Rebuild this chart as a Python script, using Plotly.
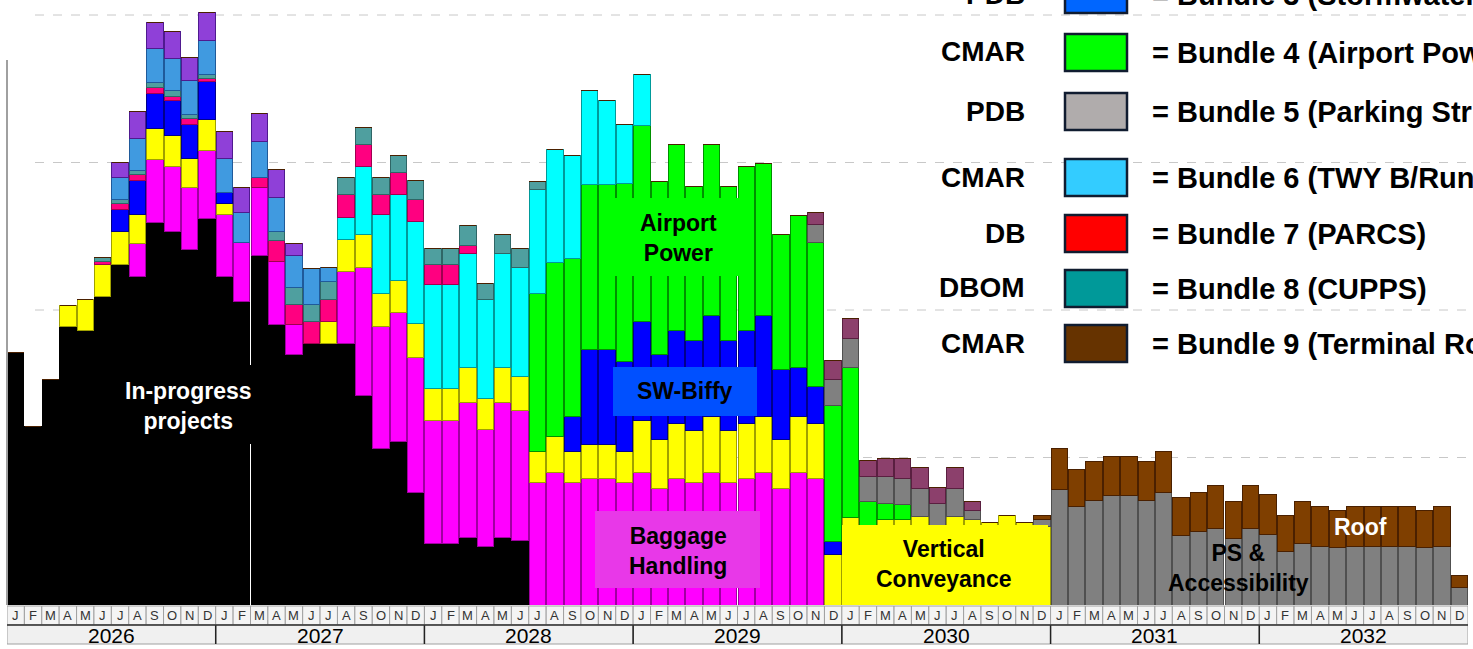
import plotly.graph_objects as go

# ---------------- data (monthly values, Jan 2026 .. Dec 2032) ----------------
MONTHS = ["J", "F", "M", "A", "M", "J", "J", "A", "S", "O", "N", "D"]
YEARS = [2026, 2027, 2028, 2029, 2030, 2031, 2032]

in_progress = [
    17.1, 12.1, 15.3, 18.9, 18.6, 20.9, 23.1, 22.3, 25.9, 25.3, 24.1, 26.2,
    22.3, 20.6, 23.7, 19.0, 17.0, 17.7, 17.7, 17.7, 14.2, 10.6, 11.1, 7.6,
    4.2, 4.2, 4.6, 4.0, 4.6, 4.4, 0, 0, 0, 0, 0, 0,
    0, 0, 0, 0, 0, 0, 0, 0, 0, 0, 0, 0,
    0, 0, 0, 0, 0, 0, 0, 0, 0, 0, 0, 0,
    0, 0, 0, 0, 0, 0, 0, 0, 0, 0, 0, 0,
    0, 0, 0, 0, 0, 0, 0, 0, 0, 0, 0, 0]
baggage = [
    0, 0, 0, 0, 0, 0, 0, 2.2, 4.3, 4.4, 4.2, 4.6,
    4.2, 4.0, 4.6, 4.3, 2.0, 0, 0, 4.9, 8.7, 8.3, 8.7, 9.2,
    8.3, 8.3, 9.1, 7.9, 9.1, 8.8, 8.3, 9.0, 8.3, 8.6, 8.6, 8.3,
    9.0, 7.9, 8.6, 8.3, 9.0, 8.3, 8.6, 9.0, 7.9, 9.0, 8.6, 0,
    0, 0, 0, 0, 0, 0, 0, 0, 0, 0, 0, 0,
    0, 0, 0, 0, 0, 0, 0, 0, 0, 0, 0, 0,
    0, 0, 0, 0, 0, 0, 0, 0, 0, 0, 0, 0]
vertical = [
    0, 0, 0, 1.4, 2.1, 2.2, 2.2, 2.0, 2.1, 2.1, 2.0, 2.1,
    0.7, 0, 0, 0, 0, 0, 1.5, 2.2, 2.2, 2.2, 2.2, 2.3,
    2.2, 2.2, 2.4, 2.1, 2.4, 2.3, 2.1, 2.4, 2.1, 2.3, 2.3, 2.1,
    3.5, 3.3, 3.7, 3.5, 3.8, 3.5, 3.7, 3.8, 3.3, 3.8, 3.7, 3.4,
    5.9, 5.2, 5.8, 5.8, 6.0, 5.4, 6.0, 5.8, 5.6, 6.1, 5.6, 5.3,
    0, 0, 0, 0, 0, 0, 0, 0, 0, 0, 0, 0,
    0, 0, 0, 0, 0, 0, 0, 0, 0, 0, 0, 0]
sw_biffy = [
    0, 0, 0, 0, 0, 0, 1.5, 2.3, 2.4, 2.4, 2.3, 2.6,
    0.8, 0, 0, 0, 0, 0, 0, 0, 0, 0, 0, 0,
    0, 0, 0, 0, 0, 0, 0, 0, 2.4, 6.4, 6.4, 6.1,
    6.7, 5.8, 6.3, 6.1, 6.8, 6.1, 6.3, 6.8, 4.8, 3.3, 2.5, 0.9,
    0, 0, 0, 0, 0, 0, 0, 0, 0, 0, 0, 0,
    0, 0, 0, 0, 0, 0, 0, 0, 0, 0, 0, 0,
    0, 0, 0, 0, 0, 0, 0, 0, 0, 0, 0, 0]
airport_power = [
    0, 0, 0, 0, 0, 0, 0, 0, 0, 0, 0, 0,
    0, 0, 0, 0, 0, 0, 0, 0, 0, 0, 0, 0,
    0, 0, 0, 0, 0, 0, 10.7, 11.8, 10.7, 11.2, 11.2, 12.1,
    13.3, 11.7, 12.6, 10.5, 11.6, 10.5, 11.1, 10.3, 9.1, 10.3, 9.8, 9.2,
    10.2, 1.8, 1.1, 1.0, 0, 0, 0, 0, 0, 0, 0, 0,
    0, 0, 0, 0, 0, 0, 0, 0, 0, 0, 0, 0,
    0, 0, 0, 0, 0, 0, 0, 0, 0, 0, 0, 0]
cyan_bundle = [
    0, 0, 0, 0, 0, 0, 0, 0, 0, 0, 0, 0,
    0, 0, 0, 0, 0, 0, 0, 1.5, 4.6, 5.4, 5.8, 6.9,
    7.0, 7.0, 7.7, 6.7, 7.7, 7.4, 7.1, 7.7, 7.0, 6.4, 5.7, 4.0,
    3.5, 0, 0, 0, 0, 0, 0, 0, 0, 0, 0, 0,
    0, 0, 0, 0, 0, 0, 0, 0, 0, 0, 0, 0,
    0, 0, 0, 0, 0, 0, 0, 0, 0, 0, 0, 0,
    0, 0, 0, 0, 0, 0, 0, 0, 0, 0, 0, 0]
parcs = [
    0, 0, 0, 0, 0, 0.2, 0.4, 0.4, 0.4, 0.3, 0.4, 0.2,
    0, 0, 0.7, 1.4, 1.4, 1.5, 1.5, 1.5, 1.5, 1.3, 1.5, 1.5,
    1.4, 1.4, 0.6, 0, 0, 0, 0, 0, 0, 0, 0, 0,
    0, 0, 0, 0, 0, 0, 0, 0, 0, 0, 0, 0,
    0, 0, 0, 0, 0, 0, 0, 0, 0, 0, 0, 0,
    0, 0, 0, 0, 0, 0, 0, 0, 0, 0, 0, 0,
    0, 0, 0, 0, 0, 0, 0, 0, 0, 0, 0, 0]
cupps = [
    0, 0, 0, 0, 0, 0.25, 0.3, 0.25, 0.3, 0.35, 0.25, 0.3,
    0, 0, 0, 0.6, 1.1, 1.2, 1.2, 1.2, 1.2, 1.2, 1.2, 1.3,
    1.1, 1.1, 1.3, 1.1, 1.3, 1.3, 0.5, 0, 0, 0, 0, 0,
    0, 0, 0, 0, 0, 0, 0, 0, 0, 0, 0, 0,
    0, 0, 0, 0, 0, 0, 0, 0, 0, 0, 0, 0,
    0, 0, 0, 0, 0, 0, 0, 0, 0, 0, 0, 0,
    0, 0, 0, 0, 0, 0, 0, 0, 0, 0, 0, 0]
twy = [
    0, 0, 0, 0, 0, 0, 1.5, 2.2, 2.3, 2.2, 2.3, 2.3,
    2.3, 2.0, 2.4, 2.3, 2.2, 2.4, 1.0, 0, 0, 0, 0, 0,
    0, 0, 0, 0, 0, 0, 0, 0, 0, 0, 0, 0,
    0, 0, 0, 0, 0, 0, 0, 0, 0, 0, 0, 0,
    0, 0, 0, 0, 0, 0, 0, 0, 0, 0, 0, 0,
    0, 0, 0, 0, 0, 0, 0, 0, 0, 0, 0, 0,
    0, 0, 0, 0, 0, 0, 0, 0, 0, 0, 0, 0]
purple_bundle = [
    0, 0, 0, 0, 0, 0, 1.0, 1.8, 1.8, 1.8, 1.6, 1.9,
    1.8, 1.7, 1.9, 1.9, 0.8, 0, 0, 0, 0, 0, 0, 0,
    0, 0, 0, 0, 0, 0, 0, 0, 0, 0, 0, 0,
    0, 0, 0, 0, 0, 0, 0, 0, 0, 0, 0, 0,
    0, 0, 0, 0, 0, 0, 0, 0, 0, 0, 0, 0,
    0, 0, 0, 0, 0, 0, 0, 0, 0, 0, 0, 0,
    0, 0, 0, 0, 0, 0, 0, 0, 0, 0, 0, 0]
ps_access = [
    0, 0, 0, 0, 0, 0, 0, 0, 0, 0, 0, 0,
    0, 0, 0, 0, 0, 0, 0, 0, 0, 0, 0, 0,
    0, 0, 0, 0, 0, 0, 0, 0, 0, 0, 0, 0,
    0, 0, 0, 0, 0, 0, 0, 0, 0, 0, 1.2, 1.8,
    2.0, 1.7, 1.8, 1.8, 1.9, 1.5, 1.9, 0.6, 0, 0, 0, 0.5,
    7.8, 6.7, 7.1, 7.4, 7.4, 7.1, 7.6, 4.7, 5.0, 5.2, 4.5, 5.2,
    4.8, 3.6, 4.2, 4.0, 3.9, 4.0, 4.0, 4.0, 4.0, 3.9, 4.0, 1.2]
plum_bundle = [
    0, 0, 0, 0, 0, 0, 0, 0, 0, 0, 0, 0,
    0, 0, 0, 0, 0, 0, 0, 0, 0, 0, 0, 0,
    0, 0, 0, 0, 0, 0, 0, 0, 0, 0, 0, 0,
    0, 0, 0, 0, 0, 0, 0, 0, 0, 0, 0.8, 1.3,
    1.3, 1.1, 1.2, 1.3, 1.4, 1.1, 1.4, 0.6, 0, 0, 0, 0,
    0, 0, 0, 0, 0, 0, 0, 0, 0, 0, 0, 0,
    0, 0, 0, 0, 0, 0, 0, 0, 0, 0, 0, 0]
roof = [
    0, 0, 0, 0, 0, 0, 0, 0, 0, 0, 0, 0,
    0, 0, 0, 0, 0, 0, 0, 0, 0, 0, 0, 0,
    0, 0, 0, 0, 0, 0, 0, 0, 0, 0, 0, 0,
    0, 0, 0, 0, 0, 0, 0, 0, 0, 0, 0, 0,
    0, 0, 0, 0, 0, 0, 0, 0, 0, 0, 0, 0.3,
    2.8, 2.5, 2.6, 2.7, 2.7, 2.6, 2.8, 2.6, 2.6, 2.9, 2.5, 2.9,
    2.7, 2.5, 2.8, 2.7, 2.5, 2.7, 2.7, 2.7, 2.7, 2.5, 2.7, 0.8]

GRID_VALUES = [10, 20, 30, 40]

LEGEND_ROWS = [
    ("PDB", "#0066FF", "= Bundle 3 (Stormwater)"),
    ("CMAR", "#00FF00", "= Bundle 4 (Airport Power)"),
    ("PDB", "#B0ACAC", "= Bundle 5 (Parking Structure)"),
    ("CMAR", "#33CCFF", "= Bundle 6 (TWY B/Runway)"),
    ("DB", "#FF0000", "= Bundle 7 (PARCS)"),
    ("DBOM", "#009999", "= Bundle 8 (CUPPS)"),
    ("CMAR", "#663300", "= Bundle 9 (Terminal Roof)"),
]

# ---------------- figure ----------------
FONT = "Liberation Sans, Arial, sans-serif"
W, H = 1473, 649
ML, MR, MT, MB = 7, 5, 0, 44
PW, PH = W - ML - MR, H - MT - MB


def px(x):
    return (x - ML) / PW


def py(y):
    return (MT + PH - y) / PH


n = len(in_progress)
xs = list(range(n))

series = [
    (in_progress, "#000000", "#000000"),
    (baggage, "#FF00FF", "#A000A0"),
    (vertical, "#FFFF00", "#A0A000"),
    (sw_biffy, "#0000FF", "#00008B"),
    (airport_power, "#00FF00", "#009000"),
    (cyan_bundle, "#00FFFF", "#009A9A"),
    (parcs, "#FF0080", "#A00050"),
    (cupps, "#4F9F9F", "#2F6666"),
    (twy, "#409AE0", "#1F5A9A"),
    (purple_bundle, "#8F40D8", "#4F1A8F"),
    (ps_access, "#808080", "#505050"),
    (plum_bundle, "#8C406C", "#5A1F40"),
    (roof, "#7F3F00", "#4A2000"),
]

fig = go.Figure()
for vals, col, lcol in series:
    fig.add_trace(go.Bar(
        x=xs, y=vals, marker=dict(color=col, line=dict(color=lcol, width=1)),
        showlegend=False, hoverinfo="skip"))

shapes = []
annotations = []

# dashed gridlines
for g in GRID_VALUES:
    shapes.append(dict(type="line", xref="paper", yref="y", x0=px(35), x1=1.01,
                       y0=g, y1=g, line=dict(color="#C8C8C8", width=1, dash="dash"),
                       layer="below"))
# left axis line
shapes.append(dict(type="line", xref="paper", yref="paper", x0=0, x1=0,
                   y0=0, y1=py(60), line=dict(color="#A0A0A0", width=2)))

# month cells
row1_bot = py(625)
row2_bot = py(644)
for i in range(n):
    shapes.append(dict(type="rect", xref="x", yref="paper", x0=i - 0.5, x1=i + 0.5,
                       y0=row1_bot, y1=py(606), fillcolor="#F4F4F4",
                       line=dict(color="#A0A0A0", width=1)))
    annotations.append(dict(x=i, y=py(616), xref="x", yref="paper", text=MONTHS[i % 12],
                            xanchor="center", yanchor="middle",
                            showarrow=False, font=dict(family=FONT, size=13, color="#333333")))
# year cells
for k, yr in enumerate(YEARS):
    shapes.append(dict(type="rect", xref="x", yref="paper", x0=12 * k - 0.5, x1=12 * k + 11.5,
                       y0=row2_bot, y1=row1_bot, fillcolor="#F0F0F0",
                       line=dict(color="#A0A0A0", width=1)))
    annotations.append(dict(x=12 * k + 5.5, y=py(635), xref="x", yref="paper", text=str(yr),
                            xanchor="center", yanchor="middle",
                            showarrow=False, font=dict(family=FONT, size=21, color="#000000")))
for k in range(1, len(YEARS)):
    shapes.append(dict(type="line", xref="x", yref="paper", x0=12 * k - 0.5, x1=12 * k - 0.5,
                       y0=row2_bot, y1=row1_bot, line=dict(color="#222222", width=1.5)))
shapes.append(dict(type="line", xref="paper", yref="paper", x0=0, x1=1,
                   y0=row1_bot, y1=row1_bot, line=dict(color="#333333", width=1.5)))

# label boxes
boxes = [
    (85, 365, 295, 444, "#000000"),
    (599, 198, 752, 276, "#00FF00"),
    (613, 367, 757, 416, "#0050FF"),
    (595, 511, 760, 588, "#E838E8"),
    (842, 525, 1048, 605, "#FFFF00"),
]
for x0, y0, x1, y1, c in boxes:
    shapes.append(dict(type="rect", xref="paper", yref="paper", x0=px(x0), x1=px(x1),
                       y0=py(y1), y1=py(y0), fillcolor=c, line=dict(width=0), layer="above"))

labels = [
    (188, 406, "In-progress<br>projects", "#FFFFFF"),
    (678, 238, "Airport<br>Power", "#000000"),
    (685, 391, "SW-Biffy", "#000000"),
    (678, 551, "Baggage<br>Handling", "#000000"),
    (944, 564, "Vertical<br>Conveyance", "#000000"),
    (1238, 568, "PS &amp;<br>Accessibility", "#000000"),
    (1360, 527, "Roof", "#FFFFFF"),
]
for x, y, t, c in labels:
    annotations.append(dict(x=px(x), y=py(y), xref="paper", yref="paper", text="<b>%s</b>" % t,
                            xanchor="center", yanchor="middle",
                            showarrow=False, font=dict(family=FONT, size=23, color=c)))

# legend-like key (top right)
row_centers = [-6, 52, 111, 177, 233, 288, 343]
for (pre, col, txt), yc in zip(LEGEND_ROWS, row_centers):
    annotations.append(dict(x=px(1027), y=py(yc), xref="paper", yref="paper",
                            text="<b>%s</b>" % pre, xanchor="right", yanchor="middle",
                            showarrow=False,
                            font=dict(family=FONT, size=28, color="#000000")))
    shapes.append(dict(type="rect", xref="paper", yref="paper", x0=px(1065), x1=px(1127),
                       y0=py(yc + 19), y1=py(yc - 18), fillcolor=col,
                       line=dict(color="#101C30", width=2.5), layer="above"))
    annotations.append(dict(x=px(1150), y=py(yc + 1), xref="paper", yref="paper",
                            text="<b>%s</b>" % txt, xanchor="left", yanchor="middle",
                            showarrow=False,
                            font=dict(family=FONT, size=29, color="#000000")))

fig.update_layout(
    width=W, height=H, margin=dict(l=ML, r=MR, t=MT, b=MB),
    barmode="stack", bargap=0.06,
    plot_bgcolor="#FFFFFF", paper_bgcolor="#FFFFFF",
    xaxis=dict(range=[-0.5, n - 0.5], showticklabels=False, showgrid=False, zeroline=False,
               fixedrange=True),
    yaxis=dict(range=[0, PH / 14.75], showticklabels=False, showgrid=False, zeroline=False,
               fixedrange=True),
    shapes=shapes, annotations=annotations,
)

fig.write_html("out.html", config={"displayModeBar": False},
               post_script="document.body.style.margin='0';document.body.style.padding='0';")
